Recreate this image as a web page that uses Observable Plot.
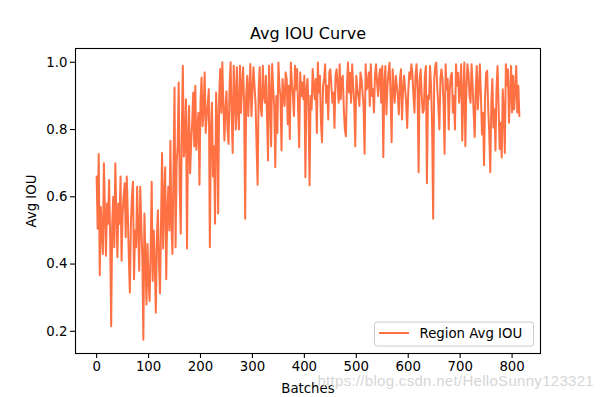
<!DOCTYPE html>
<html><head><meta charset="utf-8">
<script src="https://cdn.jsdelivr.net/npm/d3@7"></script>
<script src="https://cdn.jsdelivr.net/npm/@observablehq/plot@0.6"></script>
<style>body{margin:0;background:#fff;}</style>
</head><body><div id="chart"></div>
<script>
const titleText = "Avg IOU Curve";
const xLabel = "Batches";
const yLabel = "Avg IOU";
const seriesName = "Region Avg IOU";
const watermark = "https://blog.csdn.net/HelloSunny123321";
const xTicks = [0, 100, 200, 300, 400, 500, 600, 700, 800];
const yTicks = [0.2, 0.4, 0.6, 0.8, 1.0];
const batchStep = 2;
// estimated Avg IOU, one value every 2 batches (0 .. 814)
const iouEarly = [
  0.66, 0.505, 0.727, 0.367, 0.57, 0.50, 0.43, 0.70, 0.55, 0.425,
  0.58, 0.52, 0.65, 0.48, 0.215, 0.52, 0.60, 0.45, 0.70, 0.55,
  0.42, 0.58, 0.52, 0.66, 0.41, 0.55, 0.60, 0.64, 0.48, 0.66,
  0.55, 0.42, 0.315, 0.52, 0.60, 0.645, 0.355, 0.50, 0.45, 0.63,
  0.50, 0.38, 0.63, 0.52, 0.42, 0.175, 0.55, 0.42, 0.28, 0.46,
  0.35, 0.29, 0.44, 0.645
];
const iouRise = [
  0.35, 0.50, 0.40, 0.255, 0.48, 0.56, 0.40, 0.313, 0.52, 0.73,
  0.446, 0.60, 0.688, 0.355, 0.55, 0.63, 0.50, 0.767, 0.52, 0.43,
  0.68, 0.925, 0.45, 0.70, 0.75, 0.94, 0.62, 0.49, 0.80, 0.99,
  0.72, 0.76, 0.89, 0.446, 0.78, 0.87, 0.67, 0.76, 0.82, 0.91,
  0.75, 0.93, 0.74, 0.80, 0.85, 0.636, 0.88, 0.955, 0.81, 0.86,
  0.97, 0.79, 0.84, 0.88, 0.92, 0.45
];
const iouMid = [
  0.80, 0.88, 0.66, 0.75, 0.52, 0.91, 0.83, 0.55, 0.90, 0.98,
  0.85, 1.0, 0.88, 0.767, 0.86, 0.914, 0.80, 0.757, 0.93, 1.0,
  0.84, 0.73, 0.99, 0.90, 0.80, 0.985, 0.86, 0.80, 0.99, 0.85,
  0.93, 0.985, 0.88, 0.535, 0.90, 0.96, 0.84, 0.92, 0.995, 0.84,
  0.91, 0.985, 0.93, 0.88, 0.75, 0.636, 0.92, 0.985, 0.86, 0.84,
  0.99, 0.90, 0.88, 0.96, 0.85
];
const iouPlateau1 = [
  0.708, 0.99, 0.90, 0.75, 0.995, 0.92, 0.87, 0.688, 0.90, 0.79,
  0.999, 0.93, 0.90, 0.738, 0.95, 0.91, 0.87, 0.97, 0.95, 0.816,
  0.93, 0.772, 0.999, 0.94, 0.90, 0.84, 0.99, 0.92, 0.98, 0.86,
  0.747, 0.97, 0.90, 0.94, 0.89, 0.96, 0.658, 0.92, 0.95, 0.87,
  0.634, 0.90, 0.86, 0.98, 0.93, 0.89, 0.95, 0.79, 0.999, 0.91,
  0.96, 0.82, 0.762, 0.93, 0.95, 0.994, 0.88, 0.93, 0.83, 0.97,
  0.979, 0.93, 0.88, 0.91, 0.805, 0.96, 0.979, 0.93, 0.88, 0.994,
  0.89, 0.95, 0.96, 0.86, 0.80
];
const iouPlateau2 = [
  0.78, 0.93, 0.999, 0.91, 0.969, 0.88, 0.994, 0.93, 0.88, 0.75,
  0.96, 0.92, 0.90, 0.87, 0.97, 0.95, 0.91, 0.87, 0.728, 0.994,
  0.92, 0.93, 0.97, 0.87, 0.994, 0.90, 0.92, 0.851, 0.96, 0.994,
  0.94, 0.90, 0.96, 0.98, 0.88, 0.989, 0.718, 0.94, 0.989, 0.845,
  0.93, 0.97, 0.999, 0.90, 0.762, 0.979, 0.92, 0.88, 0.96, 0.93,
  0.90, 0.845, 0.95, 0.979, 0.83, 0.92, 0.96, 0.92, 0.88, 0.805,
  0.91, 0.97, 0.95, 0.994, 0.969, 0.90, 0.85, 0.96, 0.994, 0.92,
  0.673, 0.95, 0.979, 0.90, 0.85
];
const iouLate = [
  0.857, 0.96, 0.989, 0.64, 0.90, 0.89, 0.989, 0.93, 0.81, 0.535,
  0.95, 0.989, 0.999, 0.92, 0.87, 0.80, 0.95, 0.979, 0.95, 0.88,
  0.728, 0.994, 0.92, 0.95, 0.80, 0.92, 0.96, 0.969, 0.851, 0.90,
  0.80, 0.994, 0.93, 0.969, 0.88, 0.93, 0.994, 0.767, 0.90, 0.999,
  0.75, 0.92, 0.994, 0.969, 0.90, 0.88, 0.994, 0.93, 0.85, 0.778,
  0.92, 0.989, 0.86, 0.92, 0.994, 0.90, 0.785, 0.85, 0.694, 0.90,
  0.969, 0.975, 0.86, 0.79, 0.673, 0.88, 0.95, 0.806, 0.86, 0.738,
  0.92, 0.989, 0.87, 0.742, 0.82, 0.717, 0.92, 0.85, 0.73, 0.994,
  0.93, 0.979, 0.82, 0.90, 0.989, 0.851, 0.96, 0.86, 0.92, 0.989,
  0.851, 0.93, 0.84
];
const lineColor = "#ff7043";

const iouAll = [...iouEarly, ...iouRise, ...iouMid, ...iouPlateau1, ...iouPlateau2, ...iouLate];
const data = iouAll.map((v, i) => ({batch: i * batchStep, iou: v}));

const chart = Plot.plot({
  width: 600, height: 397,
  marginLeft: 75, marginRight: 60, marginTop: 48, marginBottom: 44,
  style: {fontFamily: "'DejaVu Sans', sans-serif", fontSize: "13.3px", background: "#fff", color: "#000"},
  x: {domain: [-40.7, 854.7]},
  y: {domain: [0.134, 1.041]},
  marks: [
    Plot.line(data, {x: "batch", y: "iou", stroke: lineColor, strokeWidth: 2}),
    Plot.frame({stroke: "#000", strokeWidth: 1.1}),
    Plot.axisX({ticks: xTicks, tickSize: 5, tickPadding: 3, label: null, strokeWidth: 1.1}),
    Plot.axisY({ticks: yTicks, tickSize: 5, tickPadding: 3, label: null, strokeWidth: 1.1, tickFormat: d => d.toFixed(1)}),
    Plot.text([titleText], {text: d => d, frameAnchor: "top", lineAnchor: "middle", dy: -15, fontSize: 16}),
    Plot.text([xLabel], {text: d => d, frameAnchor: "bottom", lineAnchor: "middle", dy: 35}),
    Plot.text([yLabel], {text: d => d, frameAnchor: "left", textAnchor: "middle", lineAnchor: "middle", dx: -44, rotate: -90})
  ]
});
document.getElementById("chart").appendChild(chart);

const svg = d3.select(chart);
const lg = svg.append("g");
lg.append("rect").attr("x", 374.5).attr("y", 322).attr("width", 159).attr("height", 24)
  .attr("rx", 2.5).attr("fill", "#fff").attr("fill-opacity", 0.8).attr("stroke", "#cccccc");
lg.append("line").attr("x1", 379).attr("x2", 409).attr("y1", 333).attr("y2", 333)
  .attr("stroke", lineColor).attr("stroke-width", 2);
lg.append("text").attr("x", 419.5).attr("y", 333).attr("dy", "0.35em").attr("text-anchor", "start")
  .attr("font-family", "'DejaVu Sans', sans-serif").attr("font-size", "13.3px").text(seriesName);
svg.append("text").attr("x", 594).attr("y", 381).attr("dy", "0.35em").attr("text-anchor", "end")
  .attr("font-family", "'Liberation Sans', Arial, sans-serif").attr("font-size", "15px")
  .attr("letter-spacing", "0.3px").attr("fill", "#d6d6d6").text(watermark);
</script>
</body></html>
